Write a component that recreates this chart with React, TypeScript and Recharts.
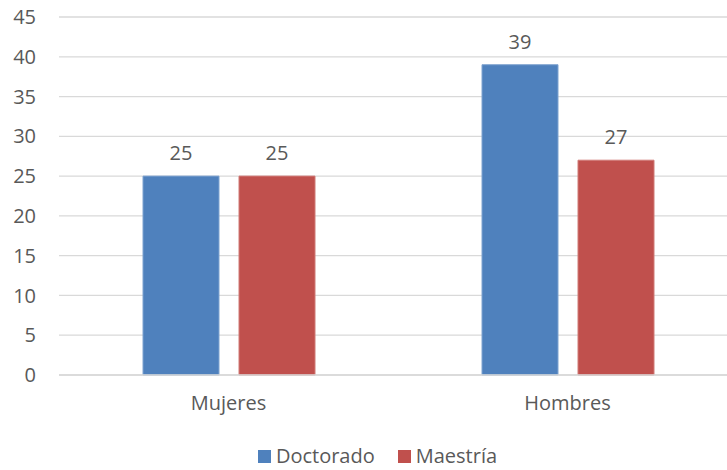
import { BarChart, Bar, XAxis, YAxis, CartesianGrid, Legend, LabelList } from "recharts";

const categories = ["Mujeres", "Hombres"];
const doctorado = [25, 39];
const maestria = [25, 27];
const yTicks = [0, 5, 10, 15, 20, 25, 30, 35, 40, 45];

const data = categories.map((name, i) => ({
  name,
  Doctorado: doctorado[i],
  Maestría: maestria[i],
}));

const FONT = "'Open Sans', sans-serif";
const TEXT = "#595959";
const GRID = "#d9d9d9";
const FS = 20;

function LegendContent({ payload }: any) {
  return (
    <div style={{ display: "flex", justifyContent: "center", alignItems: "center", fontFamily: FONT, fontSize: FS, lineHeight: "24px", color: TEXT, paddingLeft: 18, marginTop: 14 }}>
      {(payload || []).map((p: any, i: number) => (
        <div key={i} style={{ display: "flex", alignItems: "center", marginRight: i === 0 ? 23 : 0 }}>
          <span style={{ width: 13, height: 13, background: p.color, display: "inline-block", marginRight: 5 }} />
          <span>{p.value}</span>
        </div>
      ))}
    </div>
  );
}

export default function App() {
  return (
    <div style={{ position: "absolute", left: 0, top: 0, width: 727, height: 470, overflow: "hidden", background: "#fff" }}>
      <BarChart
        width={760}
        height={470}
        data={data}
        margin={{ top: 17, right: 23, left: 0, bottom: 0 }}
        barSize={76}
        barGap={20}
      >
        <CartesianGrid vertical={false} stroke={GRID} strokeWidth={1.3} />
        <XAxis
          dataKey="name"
          axisLine={{ stroke: GRID, strokeWidth: 1.3 }}
          tickLine={false}
          tickSize={0}
          tickMargin={21}
          height={55}
          tick={{ fill: TEXT, fontSize: FS, fontFamily: FONT }}
        />
        <YAxis
          domain={[0, 45]}
          ticks={yTicks}
          interval={0}
          width={59}
          axisLine={false}
          tickLine={false}
          tickSize={0}
          tickMargin={23}
          tick={{ fill: TEXT, fontSize: FS, fontFamily: FONT }}
        />
        <Legend verticalAlign="bottom" height={40} content={<LegendContent />} />
        <Bar dataKey="Doctorado" fill="#4f81bd" stroke="#7fa3d0" strokeWidth={1} isAnimationActive={false}>
          <LabelList dataKey="Doctorado" position="top" offset={16} fill={TEXT} fontSize={FS} fontFamily={FONT} />
        </Bar>
        <Bar dataKey="Maestría" fill="#c0504d" stroke="#d07a77" strokeWidth={1} isAnimationActive={false}>
          <LabelList dataKey="Maestría" position="top" offset={16} fill={TEXT} fontSize={FS} fontFamily={FONT} />
        </Bar>
      </BarChart>
    </div>
  );
}
